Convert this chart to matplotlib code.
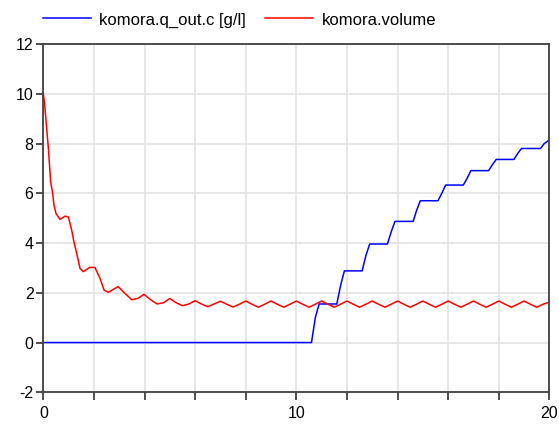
import matplotlib
matplotlib.use("Agg")
import matplotlib.pyplot as plt
from matplotlib.lines import Line2D

# komora.q_out.c [g/l]
conc_t = [0, 10.6, 10.75, 10.9, 11.6, 11.75, 11.9, 12.6, 12.75, 12.9, 13.6, 13.75, 13.9,
          14.62, 14.75, 14.9, 15.6, 15.75, 15.9, 16.6, 16.75, 16.9, 17.6, 17.75, 17.9,
          18.6, 18.75, 18.9, 19.65, 19.8, 20]
conc_v = [0, 0, 1.0, 1.55, 1.55, 2.3, 2.88, 2.88, 3.5, 3.96, 3.96, 4.45, 4.87,
          4.87, 5.3, 5.70, 5.70, 6.0, 6.33, 6.33, 6.6, 6.91, 6.91, 7.15, 7.36,
          7.36, 7.6, 7.80, 7.80, 8.0, 8.14]

# komora.volume
vol_t = [0, 0.05, 0.1, 0.2, 0.29, 0.37, 0.42, 0.5, 0.66, 0.86, 0.99, 1.12, 1.21, 1.35,
         1.45, 1.58, 1.84, 2.04, 2.24, 2.4, 2.57, 2.96, 3.2, 3.5, 3.75, 3.98, 4.2, 4.5,
         4.75, 5.0, 5.25, 5.5, 5.75, 6.0, 6.25, 6.5, 6.75, 7.0, 7.25, 7.5, 7.75, 8.0,
         8.25, 8.5, 8.75, 9.0, 9.25, 9.5, 9.75, 10.0, 10.25, 10.5, 10.75, 11.0, 11.25,
         11.5, 11.75, 12.0, 12.25, 12.5, 12.75, 13.0, 13.25, 13.5, 13.75, 14.0, 14.25,
         14.5, 14.75, 15.0, 15.25, 15.5, 15.75, 16.0, 16.25, 16.5, 16.75, 17.0, 17.25,
         17.5, 17.75, 18.0, 18.25, 18.5, 18.75, 19.0, 19.25, 19.5, 19.75, 20.0]
vol_v = [10.0, 9.6, 9.0, 7.8, 6.46, 6.0, 5.53, 5.19, 4.95, 5.08, 5.05, 4.52, 4.05, 3.45,
         2.98, 2.85, 3.02, 3.02, 2.58, 2.11, 2.02, 2.25, 2.0, 1.72, 1.78, 1.94, 1.75, 1.55,
         1.6, 1.77, 1.6, 1.48, 1.55, 1.68, 1.55, 1.44, 1.55, 1.66, 1.54, 1.43, 1.54, 1.67,
         1.54, 1.42, 1.54, 1.67, 1.54, 1.42, 1.54, 1.67, 1.54, 1.42, 1.54, 1.67, 1.54,
         1.42, 1.54, 1.67, 1.54, 1.42, 1.54, 1.67, 1.54, 1.42, 1.54, 1.67, 1.54,
         1.42, 1.54, 1.67, 1.54, 1.42, 1.54, 1.67, 1.54, 1.42, 1.54, 1.67, 1.54,
         1.42, 1.54, 1.67, 1.54, 1.42, 1.54, 1.67, 1.54, 1.42, 1.54, 1.62]

labels = ["komora.q_out.c [g/l]", "komora.volume"]
colors = ["#0000ff", "#ff0000"]
x_ticks = list(range(0, 21, 2))
x_labels = ["0", "", "", "", "", "10", "", "", "", "", "20"]
y_ticks = list(range(-2, 13, 2))

plt.rcParams['font.family'] = ['Liberation Sans', 'DejaVu Sans']
plt.rcParams['axes.unicode_minus'] = False

fig = plt.figure(figsize=(5.59, 4.26), dpi=100)
ax = fig.add_axes([0.0775, 0.0791, 0.9052, 0.8176])

ax.plot(conc_t, conc_v, color=colors[0], lw=1.1)
ax.plot(vol_t, vol_v, color=colors[1], lw=1.1)

ax.set_xlim(0, 20)
ax.set_ylim(-2, 12)
ax.set_xticks(x_ticks)
ax.set_xticklabels(x_labels)
ax.set_yticks(y_ticks)
ax.grid(True, color="#e3e3e3", lw=1.2)
ax.set_axisbelow(True)
for s in ax.spines.values():
    s.set_color("#404040")
    s.set_linewidth(1.3)
ax.tick_params(axis="x", length=6, width=1.3, color="#404040", labelsize=11.5, pad=4)
ax.tick_params(axis="y", length=5, width=1.3, color="#404040", labelsize=11.5, pad=2)

# legend above the plot, placed by hand (pixel positions / figure size)
W, H = 559, 426
leg = [(43, 91, 99), (265, 313, 322)]
for (x0, x1, xt), lab, c in zip(leg, labels, colors):
    fig.add_artist(Line2D([x0 / W, x1 / W], [1 - 18.3 / H] * 2, color=c, lw=1.1))
    fig.text(xt / W, 1 - 25 / H, lab, fontsize=12, va="baseline", ha="left")

fig.savefig("out.png", dpi=100)
